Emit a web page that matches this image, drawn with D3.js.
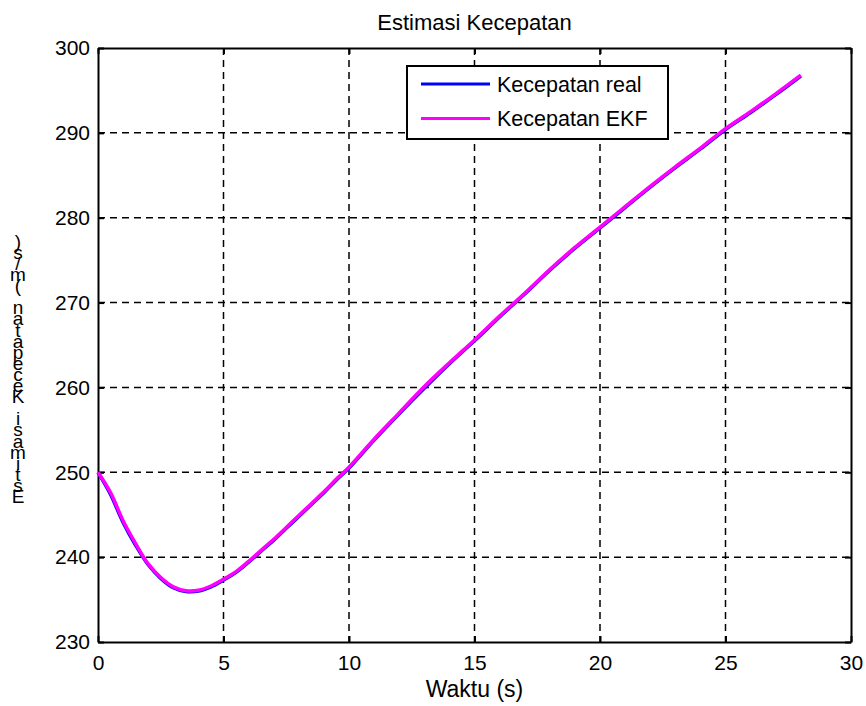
<!DOCTYPE html>
<html>
<head>
<meta charset="utf-8">
<script src="https://cdn.jsdelivr.net/npm/d3@7"></script>
<style>
  html, body { margin: 0; padding: 0; background: #fff; }
  svg text { font-family: "Liberation Sans", Arial, sans-serif; fill: #000; }
</style>
</head>
<body>
<svg id="chart" width="866" height="706"></svg>
<script>
// Time samples (s)
const waktu = [0, 0.5, 1, 1.5, 2, 2.5, 3, 3.5, 4, 4.5, 5, 5.5, 6, 6.5, 7, 7.5, 8, 8.5, 9, 9.5, 10,
  11, 12, 13, 14, 15, 16, 17, 18, 19, 20, 21, 22, 23, 24, 25, 26, 27, 28];

// True speed (m/s)
const kecepatanReal = [250.0, 247.4, 244.1, 241.4, 239.1, 237.5, 236.4, 235.95, 236.0, 236.5, 237.3,
  238.2, 239.4, 240.7, 242.0, 243.4, 244.8, 246.2, 247.6, 249.1, 250.5,
  253.8, 256.9, 259.9, 262.8, 265.5, 268.3, 271.0, 273.8, 276.4, 278.8,
  281.2, 283.6, 285.9, 288.1, 290.4, 292.4, 294.5, 296.7];

// EKF estimate of the speed (m/s)
const kecepatanEKF = [250.0, 247.6, 244.3, 241.6, 239.2, 237.6, 236.5, 236.05, 236.1, 236.6, 237.4,
  238.3, 239.5, 240.8, 242.1, 243.5, 244.9, 246.3, 247.7, 249.2, 250.6,
  253.9, 257.0, 260.1, 262.9, 265.6, 268.4, 271.1, 273.9, 276.5, 278.9,
  281.3, 283.7, 286.0, 288.2, 290.5, 292.5, 294.6, 296.8];

const xTicks = [0, 5, 10, 15, 20, 25, 30];
const yTicks = [230, 240, 250, 260, 270, 280, 290, 300];

const judul = "Estimasi Kecepatan";
const labelX = "Waktu (s)";
const labelY = "Estimasi Kecepatan (m/s)";
const namaSeri = ["Kecepatan real", "Kecepatan EKF"];
const warnaSeri = ["#0000ff", "#ff00ff"];

const svg = d3.select("#chart");
const pLeft = 98, pRight = 851, pTop = 48, pBottom = 642;

const x = d3.scaleLinear().domain([0, 30]).range([pLeft, pRight]);
const y = d3.scaleLinear().domain([230, 300]).range([pBottom, pTop]);

// Dashed grid
const grid = svg.append("g");
grid.selectAll("line.gx").data(xTicks.slice(1, -1)).join("line")
  .attr("x1", d => x(d)).attr("x2", d => x(d))
  .attr("y1", pTop).attr("y2", pBottom)
  .attr("stroke", "#000").attr("stroke-width", 1.5).attr("stroke-dasharray", "7,5");
grid.selectAll("line.gy").data(yTicks.slice(1, -1)).join("line")
  .attr("x1", pLeft).attr("x2", pRight)
  .attr("y1", d => y(d)).attr("y2", d => y(d))
  .attr("stroke", "#000").attr("stroke-width", 1.5).attr("stroke-dasharray", "7,5");

// Axes with inward ticks on all four sides
const fs = "21px";
const axB = svg.append("g").attr("transform", `translate(0,${pBottom})`)
  .call(d3.axisBottom(x).tickValues(xTicks).tickSizeInner(-6).tickSizeOuter(0).tickPadding(13));
const axT = svg.append("g").attr("transform", `translate(0,${pTop})`)
  .call(d3.axisTop(x).tickValues(xTicks).tickSizeInner(-6).tickSizeOuter(0).tickFormat(""));
const axL = svg.append("g").attr("transform", `translate(${pLeft},0)`)
  .call(d3.axisLeft(y).tickValues(yTicks).tickSizeInner(-6).tickSizeOuter(0).tickPadding(8));
const axR = svg.append("g").attr("transform", `translate(${pRight},0)`)
  .call(d3.axisRight(y).tickValues(yTicks).tickSizeInner(-6).tickSizeOuter(0).tickFormat(""));
[axB, axT, axL, axR].forEach(a => {
  a.select(".domain").attr("stroke", "#000").attr("stroke-width", 2);
  a.selectAll(".tick line").attr("stroke", "#000").attr("stroke-width", 2);
  a.selectAll(".tick text").style("font-size", fs).style("font-family", "Liberation Sans, Arial, sans-serif");
});

// Series lines
const line = vals => d3.line()
  .x((d, i) => x(waktu[i]))
  .y(d => y(d))
  .curve(d3.curveCatmullRom)(vals);

svg.append("path").attr("d", line(kecepatanReal))
  .attr("fill", "none").attr("stroke", warnaSeri[0]).attr("stroke-width", 3.5);
svg.append("path").attr("d", line(kecepatanEKF))
  .attr("fill", "none").attr("stroke", warnaSeri[1]).attr("stroke-width", 3.5);

// Title and axis labels
svg.append("text").attr("x", (pLeft + pRight) / 2).attr("y", 30)
  .attr("text-anchor", "middle").style("font-size", "22px").text(judul);
svg.append("text").attr("x", (pLeft + pRight) / 2).attr("y", 697)
  .attr("text-anchor", "middle").style("font-size", "23px").text(labelX);

// Y label: upright characters stacked from bottom to top
const chars = Array.from(labelY);
svg.append("g").selectAll("text").data(chars).join("text")
  .attr("x", 18)
  .attr("y", (d, i) => 503 - i * 11.1)
  .attr("text-anchor", "middle")
  .style("font-size", "19px")
  .text(d => d);

// Legend
const lg = svg.append("g");
lg.append("rect").attr("x", 407).attr("y", 66).attr("width", 261).attr("height", 73)
  .attr("fill", "#fff").attr("stroke", "#000").attr("stroke-width", 2);
namaSeri.forEach((nm, i) => {
  const cy = 84 + i * 34.5;
  lg.append("line").attr("x1", 421).attr("x2", 490).attr("y1", cy).attr("y2", cy)
    .attr("stroke", warnaSeri[i]).attr("stroke-width", 3);
  lg.append("text").attr("x", 497).attr("y", cy + 7.5)
    .style("font-size", "21.5px").text(nm);
});
</script>
</body>
</html>
